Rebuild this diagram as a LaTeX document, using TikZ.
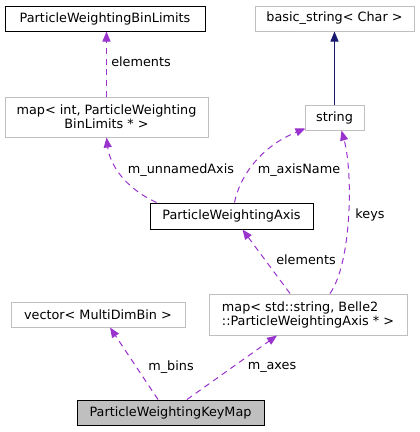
\documentclass[tikz,border=0pt]{standalone}
\usepackage{fontspec}
\setmainfont{DejaVu Sans}
\usetikzlibrary{arrows.meta,calc}

\definecolor{edgepurple}{HTML}{9A32CD}
\definecolor{edgenavy}{HTML}{191970}
\definecolor{boxgrey}{HTML}{BFBFBF}

\tikzset{
  cls/.style={draw=black, line width=0.75pt, inner sep=0pt, font=\fontsize{9.6}{10.5}\selectfont},
  ext/.style={cls, draw=boxgrey},
  focus/.style={cls, fill=boxgrey},
  member/.style={edgepurple, line width=0.75pt, dash pattern=on 4.5pt off 3.5pt, -{Triangle[length=7.5pt,width=6pt]}},
  inherit/.style={edgenavy, line width=0.75pt, -{Triangle[length=7.5pt,width=6pt]}},
  lbl/.style={inner sep=0pt, font=\fontsize{9.6}{10.5}\selectfont}
}

\begin{document}
\begin{tikzpicture}[x=0.75pt, y=-0.75pt]
\useasboundingbox (0,0) rectangle (420,432);

% Classes
\node[cls, minimum width=150pt, minimum height=18.75pt] (binlim) at (105,18.5) {ParticleWeightingBinLimits};
\node[ext, minimum width=119.25pt, minimum height=18.75pt] (basic) at (334.5,18.5) {basic\_string< Char >};
\node[ext, minimum width=152.25pt, minimum height=30pt, align=center] (mapint) at (106.5,117) {map< int, ParticleWeighting\\BinLimits * >};
\node[ext, minimum width=44.25pt, minimum height=18.75pt] (string) at (334.5,117.5) {string};
\node[cls, minimum width=122.25pt, minimum height=19.5pt] (axis) at (231.5,216) {ParticleWeightingAxis};
\node[ext, minimum width=130.5pt, minimum height=18.75pt] (vector) at (98,314.5) {vector< MultiDimBin >};
\node[ext, minimum width=148.5pt, minimum height=30.75pt, align=left] (mapstr) at (308,314.5) {map< std::string, Belle2\\::ParticleWeightingAxis * >};
\node[focus, minimum width=140.25pt, minimum height=18.75pt] (keymap) at (170.5,412.5) {ParticleWeightingKeyMap};

% Inheritance
\draw[inherit] (string.north) -- (basic.south);

% Members
\draw[member] (mapint.north) -- (mapint.north |- binlim.south);
\draw[member] ($(axis.north west)+(7,0)$) .. controls (125,188) and (110,165) .. (mapint.south);
\draw[member] ($(axis.north)+(3,0)$) .. controls (240,175) and (262,146) .. ($(string.south west)+(1,-2)$);
\draw[member] ($(mapstr.north)+(22,0)$) .. controls (352,262) and (353,172) .. ($(string.south)+(7,0)$);
\draw[member] ($(mapstr.north)+(-18,0)$) -- ($(axis.south)+(11,0)$);
\draw[member] ($(keymap.north)+(-12.5,0)$) -- ($(vector.south)+(12,0)$);
\draw[member] ($(keymap.north)+(16.5,0)$) -- ($(mapstr.south)+(-31,0)$);

% Labels
\node[lbl] (l-elem1) at (141,62) {elements};
\node[lbl] (l-unnamed) at (181,170) {m\_unnamedAxis};
\node[lbl] (l-axisname) at (299,170) {m\_axisName};
\node[lbl] (l-keys) at (370,215) {keys};
\node[lbl] (l-elem2) at (306,260) {elements};
\node[lbl] (l-bins) at (171,367) {m\_bins};
\node[lbl] (l-axes) at (272,367) {m\_axes};
\end{tikzpicture}
\end{document}
